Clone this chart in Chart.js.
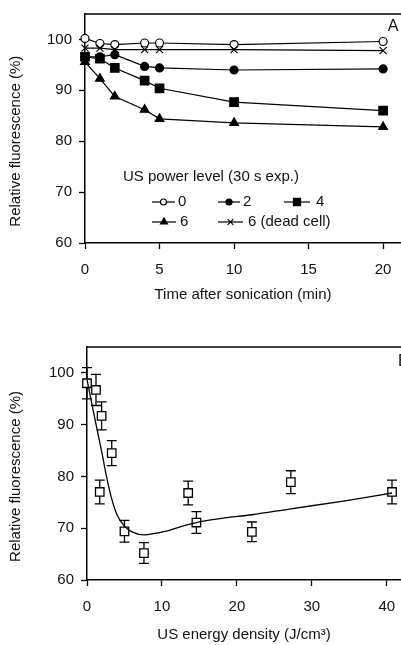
<!DOCTYPE html>
<html>
<head>
<meta charset="utf-8">
<script src="https://cdn.jsdelivr.net/npm/chart.js@4.4.0/dist/chart.umd.min.js"></script>
<style>
  body { margin: 0; background: #fff; }
  .box { position: absolute; left: 0; width: 401px; }
  #topBox { top: 0; height: 310px; }
  #botBox { top: 318px; height: 327px; }
</style>
</head>
<body>
<div class="box" id="topBox"><canvas id="topChart"></canvas></div>
<div class="box" id="botBox"><canvas id="botChart"></canvas></div>
<script>
// Panel A: fluorescence vs time after sonication
const times = [0, 1, 2, 4, 5, 10, 20];
const level0 = [100.2, 99.2, 99.0, 99.3, 99.3, 99.0, 99.6];
const level2 = [96.6, 96.6, 97.0, 94.7, 94.4, 94.0, 94.2];
const level4 = [96.6, 96.2, 94.4, 91.9, 90.4, 87.7, 86.0];
const level6 = [95.6, 92.3, 88.8, 86.2, 84.4, 83.6, 82.8];
const level6Dead = [98.3, 98.3, 98.0, 98.0, 98.0, 98.0, 97.8];
const timeTicks = [0, 5, 10, 15, 20];

// Panel B: fluorescence vs energy density
const energy = [0, 1.2, 1.95, 3.3, 1.7, 5.0, 7.6, 13.5, 14.6, 22.0, 27.2, 40.7];
const fluor = [98.0, 96.7, 91.7, 84.5, 77.0, 69.4, 65.2, 76.8, 71.1, 69.3, 78.9, 77.0];
const fluorErr = [3.0, 3.0, 2.7, 2.4, 2.3, 2.1, 2.0, 2.3, 2.1, 1.9, 2.2, 2.3];
const fitEnergy = [0, 1, 2, 2.6, 3.2, 4, 5, 6, 7.7, 9, 11, 13, 14.6, 18, 22, 27, 34, 40.7];
const fitFluor = [98.7, 91.5, 84.5, 80, 76.2, 72.6, 70.4, 69.3, 68.7, 69.0, 69.6, 70.5, 71.1, 71.9, 72.6, 73.7, 75.2, 76.8];
const energyTicks = [0, 10, 20, 30, 40];

const yTicks = [60, 70, 80, 90, 100];

Chart.defaults.font.family = '"Liberation Sans", Arial, sans-serif';
Chart.defaults.font.size = 15;
Chart.defaults.color = "#111";

const FONT = '15px "Liberation Sans", Arial, sans-serif';

function pts(xs, ys) {
  return xs.map((x, i) => ({ x: x, y: ys[i] }));
}

// frame top line, y title, panel letter, legend
const decor = {
  id: "decor",
  afterDraw(chart, args, opts) {
    const { ctx, chartArea, scales } = chart;
    ctx.save();
    ctx.strokeStyle = "#000";
    ctx.lineWidth = 1.3;
    ctx.beginPath();
    ctx.moveTo(chartArea.left, chartArea.top);
    ctx.lineTo(chartArea.right, chartArea.top);
    ctx.stroke();

    ctx.fillStyle = "#111";
    ctx.font = FONT;
    // y title centred on the labelled range
    const yc = (scales.y.getPixelForValue(60) + scales.y.getPixelForValue(100)) / 2;
    ctx.save();
    ctx.translate(16, yc);
    ctx.rotate(-Math.PI / 2);
    ctx.textAlign = "center";
    ctx.textBaseline = "middle";
    ctx.fillText(opts.yTitle, 0, 0);
    ctx.restore();

    // panel letter
    ctx.font = '16px "Liberation Sans", Arial, sans-serif';
    ctx.textAlign = opts.letterAlign;
    ctx.textBaseline = "middle";
    ctx.fillText(opts.letter, opts.letterX, opts.letterY);

    // legend
    if (opts.legend) {
      ctx.font = FONT;
      ctx.textAlign = "left";
      ctx.fillText(opts.legend.title, opts.legend.titleX, opts.legend.titleY);
      opts.legend.items.forEach((it) => {
        const ds = chart.data.datasets[it.ds];
        ctx.strokeStyle = "#000";
        ctx.lineWidth = 1.2;
        ctx.beginPath();
        ctx.moveTo(it.x1, it.y);
        ctx.lineTo(it.x2, it.y);
        ctx.stroke();
        ctx.fillStyle = ds.pointBackgroundColor;
        ctx.strokeStyle = "#000";
        ctx.lineWidth = 1.2;
        Chart.helpers.drawPoint(ctx, { pointStyle: ds.pointStyle, radius: it.r, borderWidth: 1.2, rotation: 0 }, (it.x1 + it.x2) / 2, it.y);
        ctx.fillStyle = "#111";
        ctx.fillText(it.label, it.tx, it.y);
      });
    }
    ctx.restore();
  },
};

// error bars behind the open squares
const errorBars = {
  id: "errorBars",
  beforeDatasetsDraw(chart) {
    const { ctx, scales } = chart;
    ctx.save();
    ctx.strokeStyle = "#000";
    ctx.lineWidth = 1.3;
    energy.forEach((e, i) => {
      const x = scales.x.getPixelForValue(e);
      const y1 = scales.y.getPixelForValue(fluor[i] + fluorErr[i]);
      const y2 = scales.y.getPixelForValue(fluor[i] - fluorErr[i]);
      ctx.beginPath();
      ctx.moveTo(x, y1); ctx.lineTo(x, y2);
      ctx.moveTo(x - 5, y1); ctx.lineTo(x + 5, y1);
      ctx.moveTo(x - 5, y2); ctx.lineTo(x + 5, y2);
      ctx.stroke();
    });
    ctx.restore();
  },
};

function yScale(width) {
  return {
    min: 60,
    max: 105,
    afterBuildTicks: (axis) => {
      axis.ticks = yTicks.map((v) => ({ value: v }));
    },
    afterFit: (axis) => {
      axis.width = width;
      axis.paddingTop = 0;
      axis.paddingBottom = 0;
    },
    border: { color: "#000", width: 1.5 },
    grid: { drawOnChartArea: false, drawTicks: true, tickLength: 6, color: "#000", tickWidth: 1.3 },
    ticks: { padding: 7, color: "#111" },
  };
}

function xScale(max, tickList, height, title, titlePad) {
  return {
    type: "linear",
    min: 0,
    max: max,
    afterBuildTicks: (axis) => {
      axis.ticks = tickList.map((v) => ({ value: v }));
    },
    afterFit: (axis) => {
      axis.height = height;
      // let the plot run to the right edge, as in the cropped original
      axis.paddingLeft = 0;
      axis.paddingRight = 0;
    },
    border: { color: "#000", width: 1.5 },
    grid: { drawOnChartArea: false, drawTicks: true, tickLength: 6, color: "#000", tickWidth: 1.3 },
    ticks: { autoSkip: false, maxRotation: 0, padding: 12, color: "#111" },
    title: { display: true, text: title, color: "#111", padding: { top: 0, bottom: titlePad } },
  };
}

function series(label, ys, style, bg, r) {
  return {
    label: label,
    data: pts(times, ys),
    borderColor: "#000",
    borderWidth: 1.2,
    pointStyle: style,
    pointBackgroundColor: bg,
    pointBorderColor: "#000",
    pointBorderWidth: 1.2,
    pointRadius: r,
    showLine: true,
    clip: false,
  };
}

new Chart(document.getElementById("topChart"), {
  type: "scatter",
  data: {
    datasets: [
      series("2", level2, "circle", "#000", 4),
      series("6", level6, "triangle", "#000", 5),
      series("4", level4, "rect", "#000", 6),
      series("6 (dead cell)", level6Dead, "crossRot", "#000", 5),
      series("0", level0, "circle", "#fff", 4),
    ],
  },
  options: {
    responsive: true,
    maintainAspectRatio: false,
    animation: false,
    layout: { autoPadding: false, padding: { top: 14, left: 0, right: 0, bottom: 0 } },
    scales: {
      x: xScale(21.2, timeTicks, 67, "Time after sonication (min)", 6),
      y: yScale(85),
    },
    plugins: {
      legend: { display: false },
      tooltip: { enabled: false },
      decor: {
        yTitle: "Relative fluorescence (%)",
        letter: "A",
        letterAlign: "center",
        letterX: 393,
        letterY: 27,
        legend: {
          title: "US power level (30 s exp.)",
          titleX: 123,
          titleY: 177,
          items: [
            { ds: 4, x1: 152, x2: 175, y: 202, r: 3, label: "0", tx: 178 },
            { ds: 0, x1: 218, x2: 240, y: 202, r: 3, label: "2", tx: 243 },
            { ds: 2, x1: 284, x2: 310, y: 202, r: 5, label: "4", tx: 316 },
            { ds: 1, x1: 152, x2: 176, y: 222, r: 4, label: "6", tx: 180 },
            { ds: 3, x1: 218, x2: 243, y: 222, r: 4, label: "6 (dead cell)", tx: 248 },
          ],
        },
      },
    },
  },
  plugins: [decor],
});

new Chart(document.getElementById("botChart"), {
  type: "scatter",
  data: {
    datasets: [
      {
        label: "fit",
        data: pts(fitEnergy, fitFluor),
        showLine: true,
        borderColor: "#000",
        borderWidth: 1.3,
        pointRadius: 0,
        cubicInterpolationMode: "monotone",
        clip: false,
      },
      {
        label: "measured",
        data: pts(energy, fluor),
        pointStyle: "rect",
        pointRadius: 6,
        pointBackgroundColor: "#fff",
        pointBorderColor: "#000",
        pointBorderWidth: 1.3,
        clip: false,
      },
    ],
  },
  options: {
    responsive: true,
    maintainAspectRatio: false,
    animation: false,
    layout: { autoPadding: false, padding: { top: 29, left: 0, right: 0, bottom: 0 } },
    scales: {
      x: xScale(41.9, energyTicks, 65, "US energy density (J/cm³)", 1),
      y: yScale(87),
    },
    plugins: {
      legend: { display: false },
      tooltip: { enabled: false },
      decor: {
        yTitle: "Relative fluorescence (%)",
        letter: "B",
        letterAlign: "left",
        letterX: 398,
        letterY: 44,
      },
    },
  },
  plugins: [decor, errorBars],
});
</script>
</body>
</html>
